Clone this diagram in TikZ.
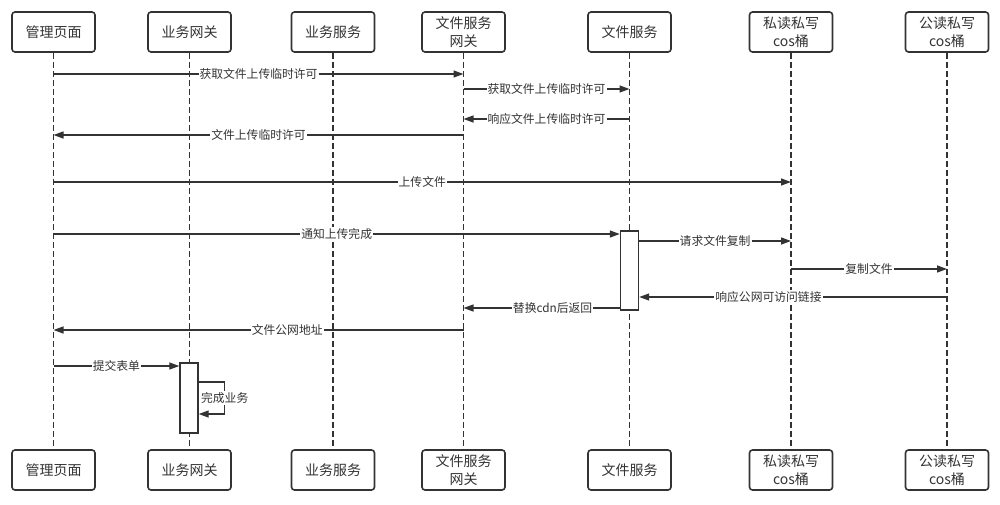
\documentclass[tikz,border=0pt]{standalone}
\usepackage{fontspec}
\newfontfamily\cjk{Noto Sans CJK SC}
\usetikzlibrary{arrows.meta}
\definecolor{ink}{HTML}{333333}
\begin{document}
\begin{tikzpicture}[x=1pt,y=-1pt,
  actor/.style={draw=ink,line width=1.6pt,rounded corners=3pt,minimum width=83pt,minimum height=40pt,
    inner sep=0pt,align=center,text=ink,font=\cjk\fontsize{14}{18}\selectfont},
  life/.style={draw=ink,line width=1.5pt,dash pattern=on 6pt off 3pt},
  act/.style={draw=ink,fill=white,line width=1.4pt,minimum width=18pt,inner sep=0pt},
  msg/.style={draw=ink,line width=1.3pt,-{Triangle[length=10pt,width=7pt]}},
  lbl/.style={fill=white,text=ink,inner sep=1pt,font=\cjk\fontsize{11.8}{13}\selectfont}
]
\useasboundingbox (0,0) rectangle (1000,504);
% actors
\node[actor] (a) at (53.5,32) {管理页面};
\node[actor] (b) at (189.5,32) {业务网关};
\node[actor] (c) at (333,32) {业务服务};
\node[actor] (d) at (463.5,32) {文件服务\\网关};
\node[actor] (e) at (629.5,32) {文件服务};
\node[actor] (f) at (791,32) {私读私写\\cos桶};
\node[actor] (g) at (947,32) {公读私写\\cos桶};
\node[actor] (a2) at (53.5,470) {管理页面};
\node[actor] (b2) at (189.5,470) {业务网关};
\node[actor] (c2) at (333,470) {业务服务};
\node[actor] (d2) at (463.5,470) {文件服务\\网关};
\node[actor] (e2) at (629.5,470) {文件服务};
\node[actor] (f2) at (791,470) {私读私写\\cos桶};
\node[actor] (g2) at (947,470) {公读私写\\cos桶};
% lifelines
\foreach \n in {a,b,c,d,e,f,g}{
  \draw[life] (\n.south) -- (\n2.north);
}
% activations
\node[act,minimum height=79pt] (act1) at (629.5,270.5) {};
\node[act,minimum height=70pt] (act2) at (189,398) {};
% messages
\draw[msg] (a.south |- 0,74) -- (d.south |- 0,74) node[lbl,midway] {获取文件上传临时许可};
\draw[msg] (d.south |- 0,89) -- (e.south |- 0,89) node[lbl,midway] {获取文件上传临时许可};
\draw[msg] (e.south |- 0,119) -- (d.south |- 0,119) node[lbl,midway] {响应文件上传临时许可};
\draw[msg] (d.south |- 0,135) -- (a.south |- 0,135) node[lbl,midway] {文件上传临时许可};
\draw[msg] (a.south |- 0,182) -- (f.south |- 0,182) node[lbl,midway] {上传文件};
\draw[msg] (a.south |- 0,234) -- (act1.west |- 0,234) node[lbl,midway] {通知上传完成};
\draw[msg] (act1.east |- 0,241) -- (f.south |- 0,241) node[lbl,midway] {请求文件复制};
\draw[msg] (f.south |- 0,269) -- (g.south |- 0,269) node[lbl,midway] {复制文件};
\draw[msg] (g.south |- 0,297) -- (act1.east |- 0,297) node[lbl,pos=0.58] {响应公网可访问链接};
\draw[msg] (act1.west |- 0,308) -- (d.south |- 0,308) node[lbl,pos=0.43] {替换cdn后返回};
\draw[msg] (d.south |- 0,330) -- (a.south |- 0,330) node[lbl,pos=0.43] {文件公网地址};
\draw[msg] (a.south |- 0,366) -- (act2.west |- 0,366) node[lbl,midway] {提交表单};
\draw[msg] (act2.east |- 0,382) -- ++(26,0) -- ++(0,32) node[lbl,midway] {完成业务} -- (act2.east |- 0,414);
\end{tikzpicture}
\end{document}
